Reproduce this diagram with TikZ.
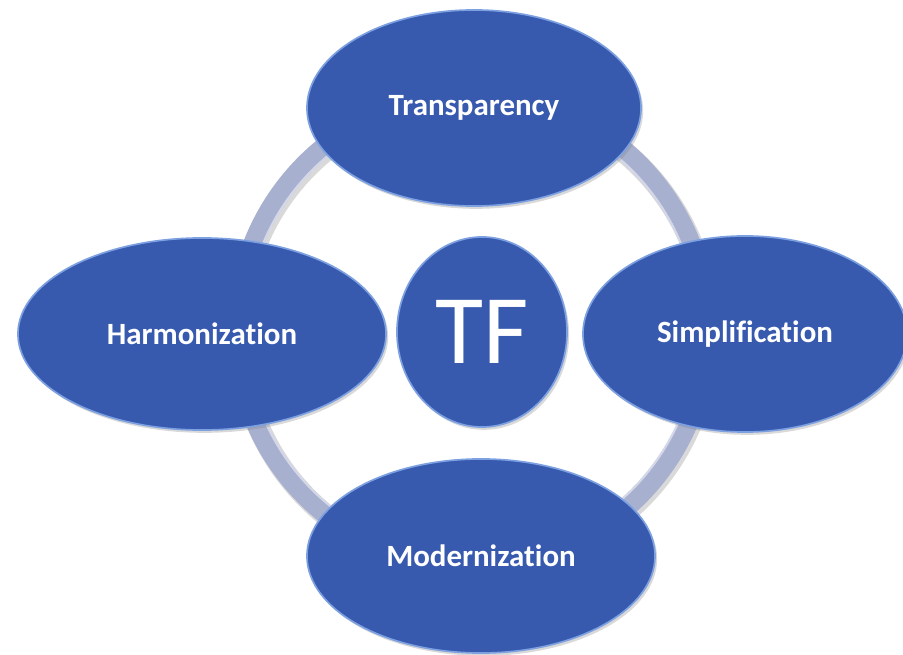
\documentclass[tikz,border=0pt]{standalone}
\usepackage{fontspec}
\setmainfont{Carlito}[Ligatures=NoCommon]
\usetikzlibrary{shapes.geometric,shadows}

\definecolor{tfblue}{RGB}{55,90,175}
\definecolor{tfrim}{RGB}{125,160,225}
\definecolor{ringgray}{RGB}{168,176,208}

\begin{document}
\begin{tikzpicture}[
    x=0.025cm, y=-0.025cm,
    pillar/.style={ellipse, draw=tfrim, line width=1.2pt, fill=tfblue, text=white, inner sep=0pt,
        font=\bfseries\fontsize{22}{26}\selectfont,
        drop shadow={opacity=0.3, shadow xshift=1.5pt, shadow yshift=-2pt}},
    hub/.style={pillar, font=\fontsize{70}{80}\selectfont},
    ring/.style={draw=ringgray, line width=0.5cm}
    ]
    \useasboundingbox (0,0) rectangle (903,655);

    % ring behind everything
    \coordinate (ringc) at (472,330);
    \draw [black, opacity=0.15, line width=0.55cm] ([xshift=1.5pt, yshift=-2pt]ringc) circle [radius=5.875cm];
    \draw [ring] (ringc) circle [radius=5.875cm];
    \draw [white, opacity=0.5, line width=1.5pt] (ringc) circle [radius=5.65cm];

    \node [hub, minimum width=4.25cm, minimum height=4.75cm] (tf) at (482,332) {TF};
    \node [pillar, minimum width=8.35cm, minimum height=4.9cm] (transparency) at (474,108) {Transparency};
    \node [pillar, minimum width=9.2cm, minimum height=4.8cm] (harmonization) at (202,334) {Harmonization};
    \node [pillar, minimum width=8.1cm, minimum height=4.9cm] (simplification) at (745,334) {Simplification};
    \node [pillar, minimum width=8.7cm, minimum height=4.85cm] (modernization) at (481,556) {Modernization};
\end{tikzpicture}
\end{document}
